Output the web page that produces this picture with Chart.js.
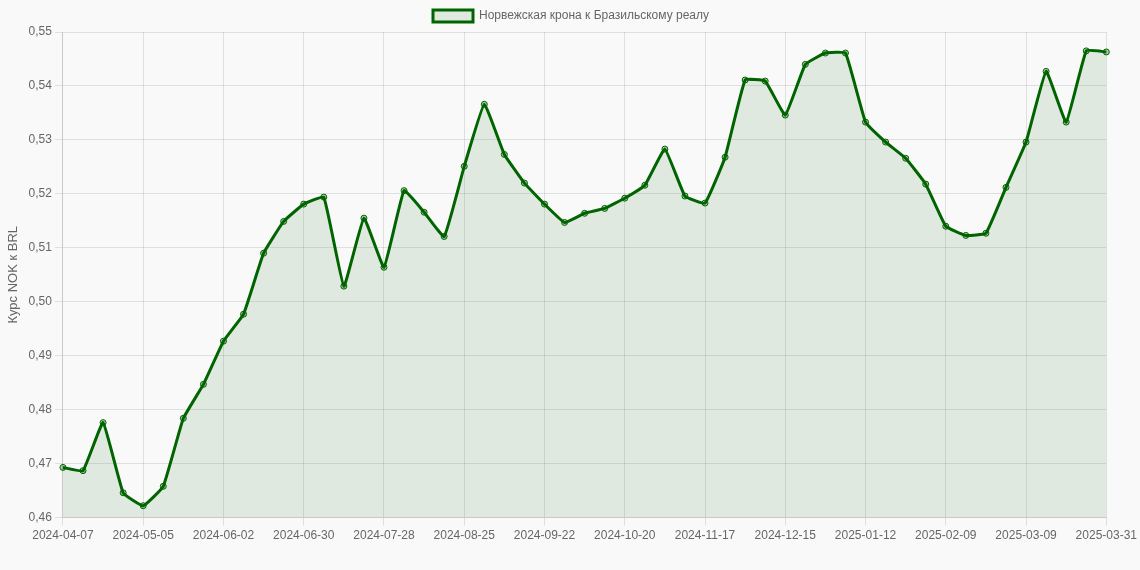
<!DOCTYPE html>
<html><head><meta charset="utf-8">
<script src="https://cdn.jsdelivr.net/npm/chart.js@4"></script>
<style>html,body{margin:0;background:#f9f9f9}#w{width:1140px;height:570px}</style>
</head><body><div id="w"><canvas id="c"></canvas></div>
<script>
const startDate = new Date(Date.UTC(2024,3,7));
const labels = [];
for (let i=0;i<52;i++){const d=new Date(startDate.getTime()+i*7*86400000);labels.push(d.toISOString().slice(0,10));}
labels.push('2025-03-31');
const seriesName = 'Норвежская крона к Бразильскому реалу';
const values = [0.4693,0.4687,0.4776,0.4646,0.4622,0.4658,0.4784,0.4847,0.4927,0.4977,
0.5090,0.5149,0.5181,0.5194,0.5029,0.5155,0.5064,0.5206,0.5166,0.5121,
0.5251,0.5366,0.5273,0.5220,0.5181,0.5147,0.5164,0.5173,0.5192,0.5216,
0.5283,0.5196,0.5183,0.5268,0.5411,0.5409,0.5346,0.5440,0.5461,0.5461,
0.5333,0.5296,0.5266,0.5218,0.5140,0.5123,0.5127,0.5212,0.5296,0.5427,
0.5333,0.5465,0.5463];
new Chart(document.getElementById('c'),{type:'line',
data:{labels,datasets:[{label:seriesName,data:values,borderColor:'#006400',backgroundColor:'rgba(0,100,0,0.1)',
borderWidth:3,fill:true,tension:0.1,pointRadius:3,pointBackgroundColor:'rgba(0,100,0,0.3)',pointBorderColor:'#006400',pointBorderWidth:1}]},
options:{responsive:true,maintainAspectRatio:false,animation:false,layout:{padding:{bottom:24,left:2}},
plugins:{legend:{labels:{color:'#666',font:{family:'Arial, Liberation Sans',size:12}}}},
scales:{x:{grid:{color:'rgba(0,0,0,0.1)'},ticks:{color:'#666',maxRotation:0,autoSkip:false,
callback:(v,i)=> i%4===0 ? labels[i] : null}},
y:{min:0.46,max:0.55,title:{display:true,text:'Курс NOK к BRL',color:'#666',font:{size:13}},
grid:{color:'rgba(0,0,0,0.1)'},ticks:{stepSize:0.01,color:'#666',callback:v=>v.toFixed(2).replace('.',',')}}}}});
</script></body></html>
